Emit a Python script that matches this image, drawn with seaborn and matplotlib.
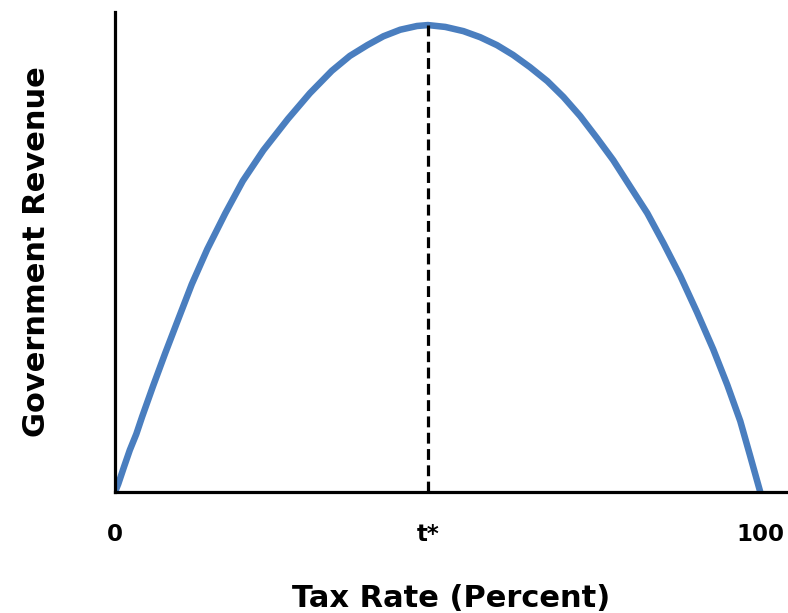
import matplotlib
matplotlib.use("Agg")
import matplotlib.pyplot as plt
import seaborn as sns
import pandas as pd

# Data (tax rate in percent, revenue as % of peak)
tax_rate = [0, 0.5, 1.4, 2.3, 3.3, 4.2, 5.9, 7.8, 9.8, 11.9, 14.3, 17.1, 19.8,
            23.0, 26.8, 30.2, 33.6, 36.4, 39.1, 41.6, 44.2, 46.8, 48.5,
            51.2, 54.0, 56.6, 59.2, 61.7, 64.3, 67.0, 69.5, 72.1, 74.7, 77.2,
            79.8, 82.5, 85.0, 87.6, 90.2, 92.7, 94.9, 96.9, 98.4, 100]
revenue = [0, 1.7, 5.4, 9.0, 12.4, 16.1, 22.7, 29.8, 37.0, 44.5, 52.0, 59.7, 66.6,
           73.2, 79.9, 85.4, 90.2, 93.4, 95.7, 97.6, 99.0, 99.8, 100,
           99.6, 98.7, 97.4, 95.7, 93.6, 91.0, 88.0, 84.6, 80.5, 75.8, 71.1,
           65.5, 59.7, 53.3, 46.3, 38.5, 30.6, 22.9, 15.2, 7.9, 0]
t_star = 48.5
peak_revenue = 100
tick_positions = [0, t_star, 100]
tick_labels = ["0", "t*", "100"]

df = pd.DataFrame({"Tax Rate": tax_rate, "Revenue": revenue})

sns.set_theme(style="white")
plt.rcParams["font.family"] = ["DejaVu Sans"]
plt.rcParams["text.color"] = "black"
plt.rcParams["axes.labelcolor"] = "black"
plt.rcParams["xtick.color"] = "black"

fig = plt.figure(figsize=(7.88, 6.13), dpi=100)
ax = fig.add_axes([115/788, 121/613, 1 - 115/788, (492 - 12)/613])

sns.lineplot(data=df, x="Tax Rate", y="Revenue", ax=ax, color="#4A7EBF",
             linewidth=4.7, estimator=None, sort=False,
             solid_capstyle="butt", solid_joinstyle="round")
ax.vlines(t_star, 0, peak_revenue, colors="black", linestyles=(0, (3.4, 1.7)),
          linewidth=2.3, zorder=3)

ax.set_xlim(0, 104.3)
ax.set_ylim(0, 102.8)

for s in ["top", "right"]:
    ax.spines[s].set_visible(False)
for s in ["left", "bottom"]:
    ax.spines[s].set_color("black")
    ax.spines[s].set_linewidth(2.3)

ax.set_yticks([])
ax.set_xticks(tick_positions)
ax.set_xticklabels(tick_labels, fontsize=16.5, fontweight="bold")
ax.tick_params(axis="x", length=0, pad=22)

ax.set_xlabel("Tax Rate (Percent)", fontsize=22, fontweight="bold", labelpad=28)
ax.set_ylabel("Government Revenue", fontsize=22, fontweight="bold", labelpad=46)

fig.savefig("out.png", dpi=100)
